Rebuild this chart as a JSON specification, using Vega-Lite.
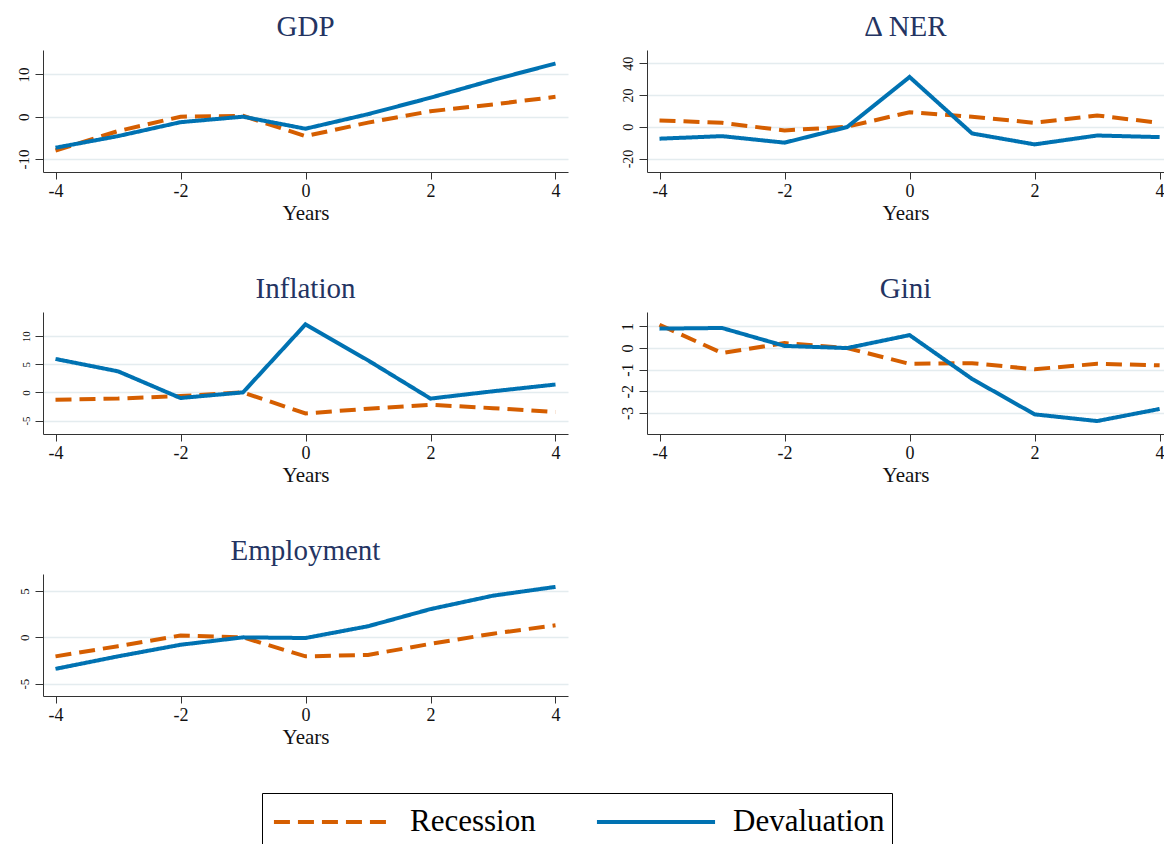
{
  "$schema": "https://vega.github.io/schema/vega-lite/v6.json",
  "padding": {"left": 5, "top": 13, "right": 0, "bottom": 0},
  "background": "white",
  "config": {
    "font": "Liberation Serif",
    "view": {"stroke": null},
    "axis": {"labelFont": "Liberation Serif", "titleFont": "Liberation Serif", "domainColor": "#333333", "tickColor": "#333333", "labelColor": "#111111", "titleColor": "#111111", "titleFontWeight": "normal", "labelFlush": false, "labelExpr": "'' + datum.value"},
    "axisX": {"grid": false, "labelFontSize": 18, "titleFontSize": 21, "tickSize": 7, "labelPadding": 3, "titlePadding": 2},
    "axisY": {"labelAngle": -90, "labelAlign": "center", "labelBaseline": "bottom", "gridColor": "#e4ecef", "gridWidth": 1.5, "tickSize": 8, "labelPadding": 4, "minExtent": 38, "maxExtent": 38},
    "title": {"font": "Liberation Serif", "fontSize": 29, "fontWeight": "normal", "color": "#243462", "anchor": "middle", "offset": 8},
    "line": {"strokeWidth": 4, "clip": true}
  },
  "data": {"values": [
    {"panel": "GDP", "series": "Recession", "year": -4, "value": -8.0},
    {"panel": "GDP", "series": "Recession", "year": -3, "value": -3.4},
    {"panel": "GDP", "series": "Recession", "year": -2, "value": 0.0},
    {"panel": "GDP", "series": "Recession", "year": -1, "value": 0.2},
    {"panel": "GDP", "series": "Recession", "year": 0, "value": -4.6},
    {"panel": "GDP", "series": "Recession", "year": 1, "value": -1.4},
    {"panel": "GDP", "series": "Recession", "year": 2, "value": 1.3},
    {"panel": "GDP", "series": "Recession", "year": 3, "value": 2.9},
    {"panel": "GDP", "series": "Recession", "year": 4, "value": 4.7},
    {"panel": "GDP", "series": "Devaluation", "year": -4, "value": -7.35},
    {"panel": "GDP", "series": "Devaluation", "year": -3, "value": -4.6},
    {"panel": "GDP", "series": "Devaluation", "year": -2, "value": -1.3},
    {"panel": "GDP", "series": "Devaluation", "year": -1, "value": 0.0},
    {"panel": "GDP", "series": "Devaluation", "year": 0, "value": -2.85},
    {"panel": "GDP", "series": "Devaluation", "year": 1, "value": 0.6},
    {"panel": "GDP", "series": "Devaluation", "year": 2, "value": 4.5},
    {"panel": "GDP", "series": "Devaluation", "year": 3, "value": 8.7},
    {"panel": "GDP", "series": "Devaluation", "year": 4, "value": 12.6},
    {"panel": "NER", "series": "Recession", "year": -4, "value": 4.0},
    {"panel": "NER", "series": "Recession", "year": -3, "value": 2.5},
    {"panel": "NER", "series": "Recession", "year": -2, "value": -2.3},
    {"panel": "NER", "series": "Recession", "year": -1, "value": 0.0},
    {"panel": "NER", "series": "Recession", "year": 0, "value": 9.2},
    {"panel": "NER", "series": "Recession", "year": 1, "value": 6.3},
    {"panel": "NER", "series": "Recession", "year": 2, "value": 2.5},
    {"panel": "NER", "series": "Recession", "year": 3, "value": 7.1},
    {"panel": "NER", "series": "Recession", "year": 4, "value": 2.5},
    {"panel": "NER", "series": "Devaluation", "year": -4, "value": -7.5},
    {"panel": "NER", "series": "Devaluation", "year": -3, "value": -5.9},
    {"panel": "NER", "series": "Devaluation", "year": -2, "value": -10.0},
    {"panel": "NER", "series": "Devaluation", "year": -1, "value": -0.2},
    {"panel": "NER", "series": "Devaluation", "year": 0, "value": 31.4},
    {"panel": "NER", "series": "Devaluation", "year": 1, "value": -4.2},
    {"panel": "NER", "series": "Devaluation", "year": 2, "value": -11.1},
    {"panel": "NER", "series": "Devaluation", "year": 3, "value": -5.5},
    {"panel": "NER", "series": "Devaluation", "year": 4, "value": -6.5},
    {"panel": "Inflation", "series": "Recession", "year": -4, "value": -1.3},
    {"panel": "Inflation", "series": "Recession", "year": -3, "value": -1.1},
    {"panel": "Inflation", "series": "Recession", "year": -2, "value": -0.65},
    {"panel": "Inflation", "series": "Recession", "year": -1, "value": 0.0},
    {"panel": "Inflation", "series": "Recession", "year": 0, "value": -3.75},
    {"panel": "Inflation", "series": "Recession", "year": 1, "value": -2.9},
    {"panel": "Inflation", "series": "Recession", "year": 2, "value": -2.2},
    {"panel": "Inflation", "series": "Recession", "year": 3, "value": -2.8},
    {"panel": "Inflation", "series": "Recession", "year": 4, "value": -3.5},
    {"panel": "Inflation", "series": "Devaluation", "year": -4, "value": 5.95},
    {"panel": "Inflation", "series": "Devaluation", "year": -3, "value": 3.75},
    {"panel": "Inflation", "series": "Devaluation", "year": -2, "value": -1.0},
    {"panel": "Inflation", "series": "Devaluation", "year": -1, "value": 0.0},
    {"panel": "Inflation", "series": "Devaluation", "year": 0, "value": 12.1},
    {"panel": "Inflation", "series": "Devaluation", "year": 1, "value": 5.7},
    {"panel": "Inflation", "series": "Devaluation", "year": 2, "value": -1.1},
    {"panel": "Inflation", "series": "Devaluation", "year": 3, "value": 0.2},
    {"panel": "Inflation", "series": "Devaluation", "year": 4, "value": 1.4},
    {"panel": "Gini", "series": "Recession", "year": -4, "value": 1.08},
    {"panel": "Gini", "series": "Recession", "year": -3, "value": -0.23},
    {"panel": "Gini", "series": "Recession", "year": -2, "value": 0.23},
    {"panel": "Gini", "series": "Recession", "year": -1, "value": 0.0},
    {"panel": "Gini", "series": "Recession", "year": 0, "value": -0.73},
    {"panel": "Gini", "series": "Recession", "year": 1, "value": -0.7},
    {"panel": "Gini", "series": "Recession", "year": 2, "value": -0.98},
    {"panel": "Gini", "series": "Recession", "year": 3, "value": -0.73},
    {"panel": "Gini", "series": "Recession", "year": 4, "value": -0.8},
    {"panel": "Gini", "series": "Devaluation", "year": -4, "value": 0.9},
    {"panel": "Gini", "series": "Devaluation", "year": -3, "value": 0.93},
    {"panel": "Gini", "series": "Devaluation", "year": -2, "value": 0.1},
    {"panel": "Gini", "series": "Devaluation", "year": -1, "value": 0.0},
    {"panel": "Gini", "series": "Devaluation", "year": 0, "value": 0.6},
    {"panel": "Gini", "series": "Devaluation", "year": 1, "value": -1.43},
    {"panel": "Gini", "series": "Devaluation", "year": 2, "value": -3.07},
    {"panel": "Gini", "series": "Devaluation", "year": 3, "value": -3.38},
    {"panel": "Gini", "series": "Devaluation", "year": 4, "value": -2.82},
    {"panel": "Employment", "series": "Recession", "year": -4, "value": -2.05},
    {"panel": "Employment", "series": "Recession", "year": -3, "value": -0.95},
    {"panel": "Employment", "series": "Recession", "year": -2, "value": 0.2},
    {"panel": "Employment", "series": "Recession", "year": -1, "value": 0.0},
    {"panel": "Employment", "series": "Recession", "year": 0, "value": -2.05},
    {"panel": "Employment", "series": "Recession", "year": 1, "value": -1.9},
    {"panel": "Employment", "series": "Recession", "year": 2, "value": -0.7},
    {"panel": "Employment", "series": "Recession", "year": 3, "value": 0.4},
    {"panel": "Employment", "series": "Recession", "year": 4, "value": 1.3},
    {"panel": "Employment", "series": "Devaluation", "year": -4, "value": -3.4},
    {"panel": "Employment", "series": "Devaluation", "year": -3, "value": -2.05},
    {"panel": "Employment", "series": "Devaluation", "year": -2, "value": -0.8},
    {"panel": "Employment", "series": "Devaluation", "year": -1, "value": 0.0},
    {"panel": "Employment", "series": "Devaluation", "year": 0, "value": -0.07},
    {"panel": "Employment", "series": "Devaluation", "year": 1, "value": 1.2},
    {"panel": "Employment", "series": "Devaluation", "year": 2, "value": 3.05},
    {"panel": "Employment", "series": "Devaluation", "year": 3, "value": 4.5},
    {"panel": "Employment", "series": "Devaluation", "year": 4, "value": 5.45}
  ]},
  "columns": 2,
  "spacing": {"row": 52, "column": 41},
  "resolve": {"scale": {"x": "independent", "y": "independent"}},
  "concat": [
    {
      "title": "GDP", "width": 525, "height": 122,
      "transform": [{"filter": "datum.panel === 'GDP'"}],
      "mark": "line",
      "encoding": {
        "x": {"field": "year", "type": "quantitative", "scale": {"domain": [-4.2, 4.2], "nice": false, "zero": false}, "axis": {"values": [-4, -2, 0, 2, 4], "title": "Years"}},
        "y": {"field": "value", "type": "quantitative", "scale": {"domain": [-13.1, 15.8], "nice": false, "zero": false}, "axis": {"values": [-10, 0, 10], "labelFontSize": 15, "title": null}},
        "color": {"field": "series", "type": "nominal", "scale": {"domain": ["Recession", "Devaluation"], "range": ["#D55E00", "#0072B2"]},
          "legend": {"orient": "none", "legendX": 219, "legendY": 743, "direction": "horizontal", "title": null, "symbolType": "M-3,0H3", "symbolSize": 1550, "symbolStrokeWidth": 6, "symbolOffset": 42, "labelFontSize": 31, "labelFont": "Liberation Serif", "labelOffset": 55, "columnPadding": 52, "padding": 7, "strokeColor": "black", "fillColor": "white", "labelColor": "black", "labelLimit": 400}},
        "strokeDash": {"field": "series", "type": "nominal", "scale": {"domain": ["Recession", "Devaluation"], "range": [[16, 8], [1, 0]]},
          "legend": {"orient": "none", "legendX": 219, "legendY": 743, "direction": "horizontal", "title": null, "symbolType": "M-3,0H3", "symbolSize": 1550, "symbolStrokeWidth": 6, "symbolOffset": 42, "labelFontSize": 31, "labelFont": "Liberation Serif", "labelOffset": 55, "columnPadding": 52, "padding": 7, "strokeColor": "black", "fillColor": "white", "labelColor": "black", "labelLimit": 400}}
      }
    },
    {
      "title": "Δ NER", "width": 517, "height": 122,
      "transform": [{"filter": "datum.panel === 'NER'"}],
      "mark": "line",
      "encoding": {
        "x": {"field": "year", "type": "quantitative", "scale": {"domain": [-4.2, 4.07], "nice": false, "zero": false}, "axis": {"values": [-4, -2, 0, 2, 4], "title": "Years"}},
        "y": {"field": "value", "type": "quantitative", "scale": {"domain": [-28.5, 48.4], "nice": false, "zero": false}, "axis": {"values": [-20, 0, 20, 40], "labelFontSize": 14, "title": null}},
        "color": {"field": "series", "type": "nominal"},
        "strokeDash": {"field": "series", "type": "nominal"}
      }
    },
    {
      "title": "Inflation", "width": 525, "height": 122,
      "transform": [{"filter": "datum.panel === 'Inflation'"}],
      "mark": "line",
      "encoding": {
        "x": {"field": "year", "type": "quantitative", "scale": {"domain": [-4.2, 4.2], "nice": false, "zero": false}, "axis": {"values": [-4, -2, 0, 2, 4], "title": "Years"}},
        "y": {"field": "value", "type": "quantitative", "scale": {"domain": [-7.4, 14.3], "nice": false, "zero": false}, "axis": {"values": [-5, 0, 5, 10], "labelFontSize": 11, "title": null}},
        "color": {"field": "series", "type": "nominal"},
        "strokeDash": {"field": "series", "type": "nominal"}
      }
    },
    {
      "title": "Gini", "width": 517, "height": 122,
      "transform": [{"filter": "datum.panel === 'Gini'"}],
      "mark": "line",
      "encoding": {
        "x": {"field": "year", "type": "quantitative", "scale": {"domain": [-4.2, 4.07], "nice": false, "zero": false}, "axis": {"values": [-4, -2, 0, 2, 4], "title": "Years"}},
        "y": {"field": "value", "type": "quantitative", "scale": {"domain": [-3.98, 1.67], "nice": false, "zero": false}, "axis": {"values": [-3, -2, -1, 0, 1], "labelFontSize": 16, "title": null}},
        "color": {"field": "series", "type": "nominal"},
        "strokeDash": {"field": "series", "type": "nominal"}
      }
    },
    {
      "title": "Employment", "width": 525, "height": 122,
      "transform": [{"filter": "datum.panel === 'Employment'"}],
      "mark": "line",
      "encoding": {
        "x": {"field": "year", "type": "quantitative", "scale": {"domain": [-4.2, 4.2], "nice": false, "zero": false}, "axis": {"values": [-4, -2, 0, 2, 4], "title": "Years"}},
        "y": {"field": "value", "type": "quantitative", "scale": {"domain": [-6.33, 6.84], "nice": false, "zero": false}, "axis": {"values": [-5, 0, 5], "labelFontSize": 13, "title": null}},
        "color": {"field": "series", "type": "nominal"},
        "strokeDash": {"field": "series", "type": "nominal"}
      }
    }
  ]
}
